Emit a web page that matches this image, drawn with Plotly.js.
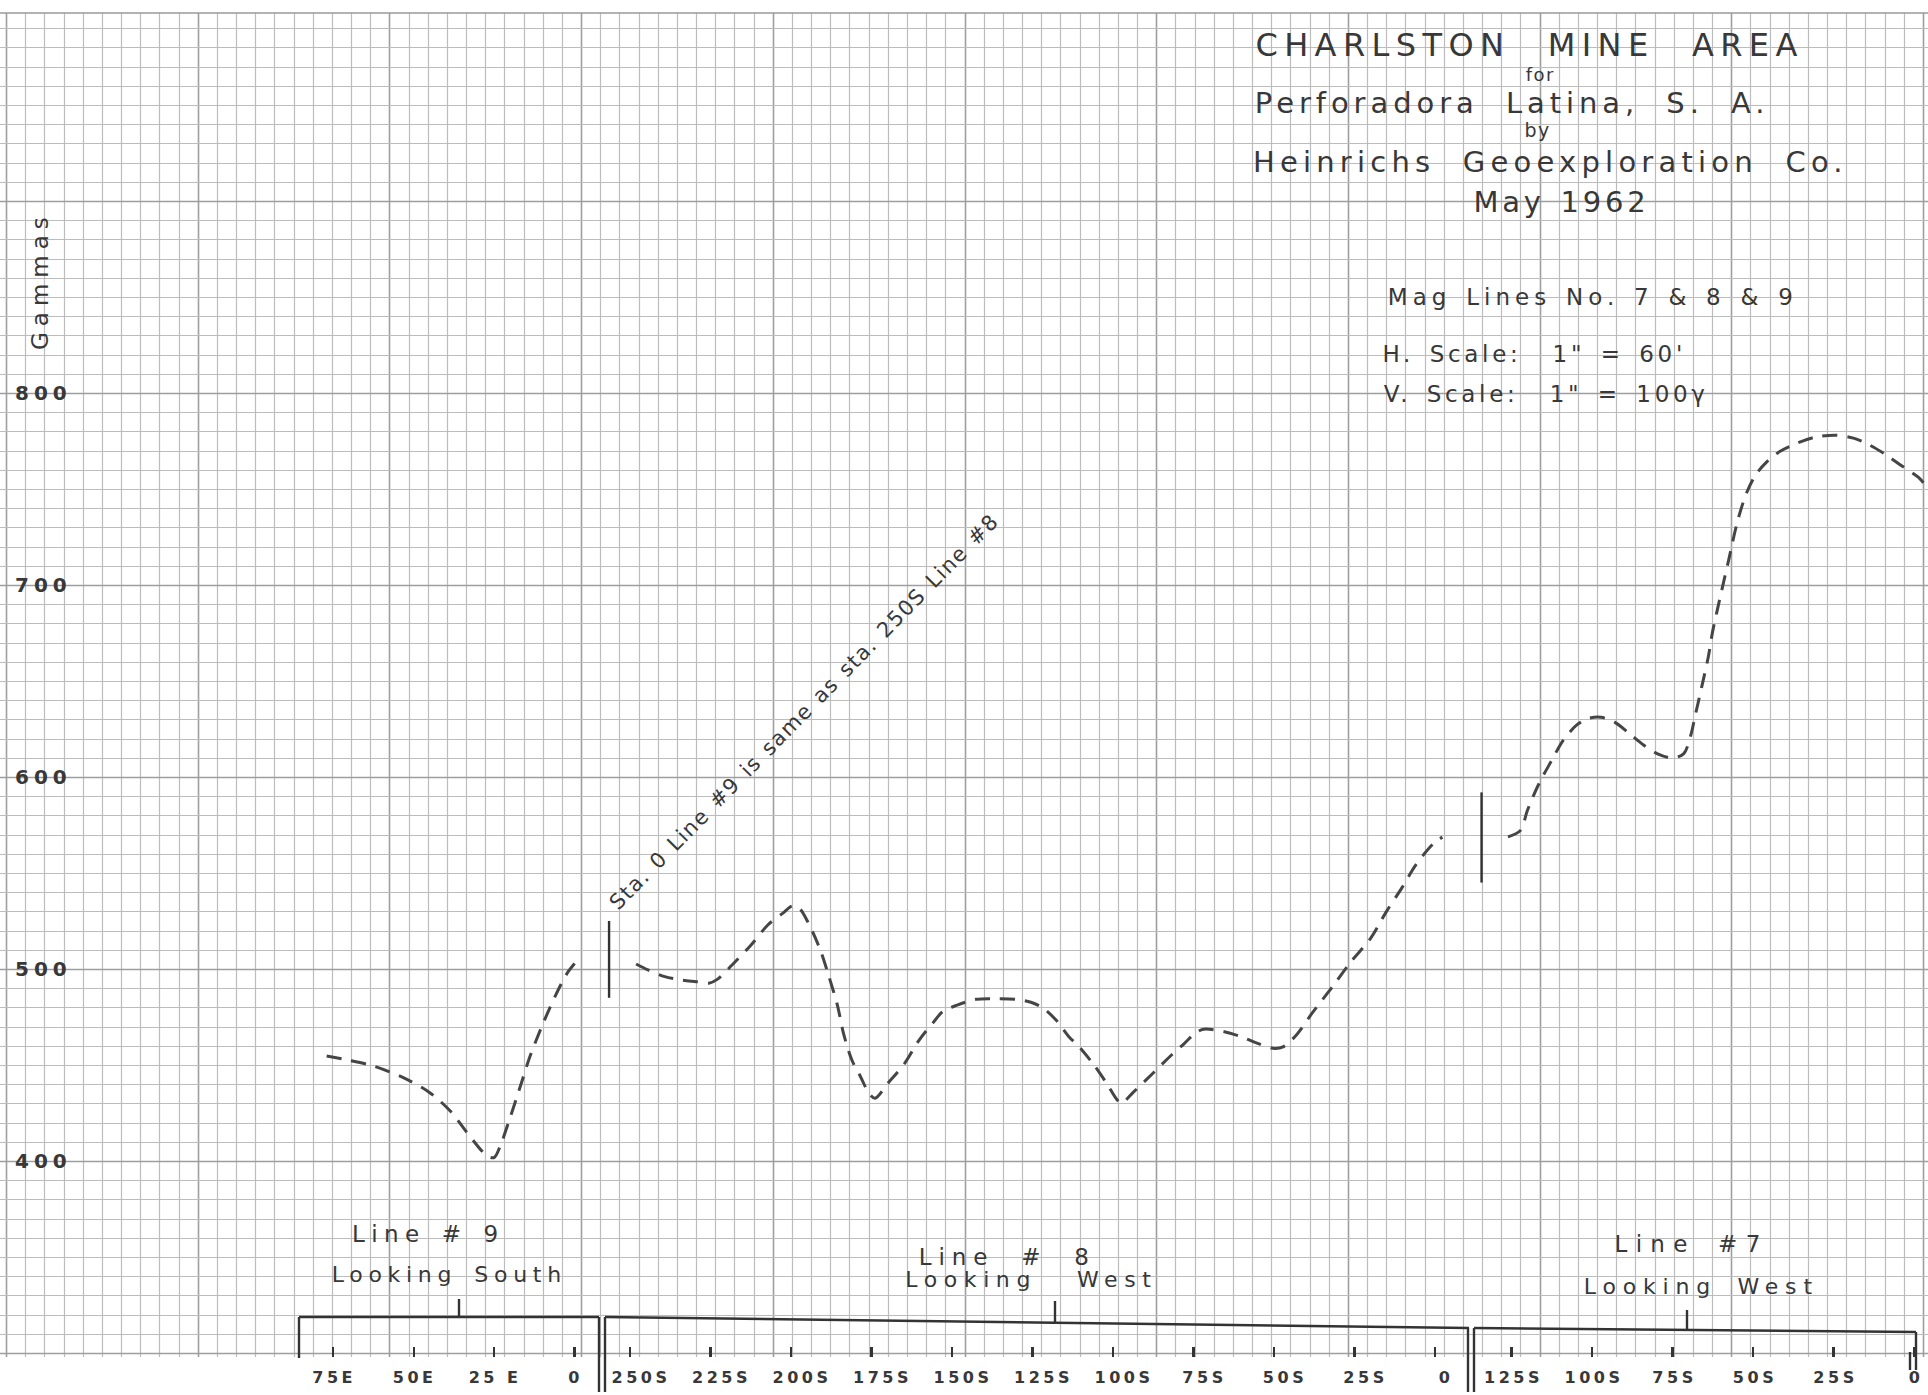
<!DOCTYPE html>
<html>
<head>
<meta charset="utf-8">
<script src="https://cdn.plot.ly/plotly-3.0.1.min.js"></script>
<style>
html,body{margin:0;padding:0;background:#ffffff;}
#chart{width:1928px;height:1395px;}
.x2tick text,.x3tick text,.x4tick text{letter-spacing:0.22em;}
.ytick text{letter-spacing:0.25em;}
</style>
</head>
<body>
<div id="chart"></div>
<script>
// ---------------- DATA ----------------
// Line #9, looking south: stations in feet East, values in gammas
const line9Stations = [77, 70.3, 62.5, 53.2, 45.4, 38.7, 34, 28.9, 26.8, 24.9, 23.2, 20.1, 16.4, 13.9, 10.2, 6.1, 2, -1.7];
const line9Gammas   = [454.7, 452.6, 449.5, 443.4, 436.1, 426.2, 416.1, 405.4, 402.2, 401.9, 407.4, 422.2, 441.3, 454.3, 470, 485.6, 498.6, 506.1];

// Line #8, looking west: stations in feet South
const line8Stations = [248.1, 244.4, 239.2, 234, 229.4, 225.5, 222.9, 218.3, 212.4, 207.2, 202.6, 199.6, 197.4, 194.8, 190.9, 188.2, 185.6, 183.7, 181.1, 178.4, 175.8, 173.9, 169.9, 164.7, 160.2, 155.6, 152.9, 148.4, 142.5, 136, 130.1, 125.5, 121.6, 117.7, 113.7, 110.5, 105.9, 102, 98.7, 97.4, 93.5, 87.6, 82.4, 77.8, 74.5, 71.9, 65.4, 60.2, 55.3, 49.8, 47, 42.9, 38, 31.7, 26.2, 19.9, 15.1, 10.2, 6.1, 0.5, -2.3];
const line8Gammas   = [502.6, 499.5, 496, 494.3, 493.4, 492.6, 494.6, 502.1, 512.5, 522.9, 529, 532.8, 531.6, 524.6, 509.9, 496, 481.2, 466.5, 452.6, 443.9, 435.3, 432.7, 440.5, 450.9, 463, 472.6, 477.8, 481.2, 484.2, 484.5, 484.2, 482.7, 479.5, 473.4, 464.7, 459.5, 450, 440.5, 431.8, 430.1, 436.1, 445.7, 454.3, 461.3, 466.5, 468.6, 467.3, 464.7, 461.4, 458.6, 459.6, 465.9, 477.4, 491.1, 503.6, 516.2, 529.9, 542.5, 553.9, 565.3, 568.7];

// Line #7, looking west: stations in feet South
const line7Stations = [126.1, 122.2, 120.1, 116.6, 112.5, 109, 104.8, 101.4, 97.2, 93, 88.2, 84, 79.8, 75, 71.5, 69.4, 68, 66, 63.9, 62.5, 60.4, 57.6, 54.8, 52.1, 49.3, 45.8, 41.7, 36.1, 30.6, 24.3, 18.8, 13.9, 8.4, 4.2, -1.4, -4.2];
const line7Gammas   = [568.8, 572.2, 582.4, 596.1, 608.7, 619, 627, 630.4, 631.1, 628.6, 622.4, 616.7, 612.2, 609.9, 612.2, 621.3, 631.6, 646.4, 662.4, 676.1, 692.1, 712.7, 733.2, 747.5, 757, 764, 769.5, 774, 777, 778, 776.5, 773, 767.5, 762.5, 756, 750.4];

// Junction marks (solid short verticals)
const junction98Stations = [256.5, 256.5];   // on Line #8 station scale
const junction98Gammas   = [485, 525];
const junction87Stations = [134.3, 134.3];   // on Line #7 station scale
const junction87Gammas   = [545, 592];

// Tick labels
const yTickVals = [400, 500, 600, 700, 800];
const yTickText = ['400', '500', '600', '700', '800'];
const line9TickVals = [75, 50, 25, 0];
const line9TickText = ['75E', '50E', '25 E', '0'];
const line8TickVals = [250, 225, 200, 175, 150, 125, 100, 75, 50, 25, 0];
const line8TickText = ['250S', '225S', '200S', '175S', '150S', '125S', '100S', '75S', '50S', '25S', '0'];
const line7TickVals = [125, 100, 75, 50, 25, 0];
const line7TickText = ['125S', '100S', '75S', '50S', '25S', '0'];

// ---------------- LAYOUT ----------------
const W = 1928, H = 1395, TOP = 13, BOTTOM = 1357;
const PX_PER_GAMMA = 1.92, Y_OF_800 = 393;
const PX_PER_FT = 3.22;
const GRID_CELL = 19.17, GRID_X0 = 6;
const FONT = 'DejaVu Sans, Liberation Sans, sans-serif';
const TXT = '#383838';
const INK = '#454545';
const GRID_MINOR = '#bcbcbc', GRID_MAJOR = '#9e9e9e';

const PX = x => x / W;
const PY = y => (BOTTOM - y) / (BOTTOM - TOP);
const yRange = [800 - (BOTTOM - Y_OF_800) / PX_PER_GAMMA, 800 + (Y_OF_800 - TOP) / PX_PER_GAMMA];

function stationAxis(zeroPx, tickvals, ticktext, shift) {
  return {
    overlaying: 'x', anchor: 'y', side: 'bottom',
    range: [zeroPx / PX_PER_FT, (zeroPx - W) / PX_PER_FT],
    tickmode: 'array', tickvals: tickvals, ticktext: ticktext,
    ticks: 'inside', ticklen: 10, tickwidth: 2.2, tickcolor: '#333',
    showgrid: false, zeroline: false, showline: false,
    tickfont: {family: FONT, size: 16, color: TXT, weight: 'bold'},
    ticklabelstandoff: 9, ticklabelshift: shift, ticklabeloverflow: 'allow',
    fixedrange: true
  };
}

const dashStyle = {color: INK, width: 3, dash: '15px,10px', shape: 'spline', smoothing: 0.9};

const traces = [
  {x: [], y: [], xaxis: 'x', yaxis: 'y', mode: 'lines', showlegend: false, hoverinfo: 'skip'},
  {x: line9Stations, y: line9Gammas, xaxis: 'x2', yaxis: 'y', mode: 'lines', line: dashStyle, name: 'Line #9', showlegend: false},
  {x: line8Stations, y: line8Gammas, xaxis: 'x3', yaxis: 'y', mode: 'lines', line: dashStyle, name: 'Line #8', showlegend: false},
  {x: line7Stations, y: line7Gammas, xaxis: 'x4', yaxis: 'y', mode: 'lines', line: dashStyle, name: 'Line #7', showlegend: false},
  {x: junction98Stations, y: junction98Gammas, xaxis: 'x3', yaxis: 'y', mode: 'lines', line: {color: '#333', width: 2.4}, showlegend: false},
  {x: junction87Stations, y: junction87Gammas, xaxis: 'x4', yaxis: 'y', mode: 'lines', line: {color: '#333', width: 2.4}, showlegend: false}
];

// annotations: [text, centerX px, centerY px, size, letterSpacing em, wordSpacing em, angle]
const annSpecs = [
  ['CHARLSTON MINE AREA', 1529, 45, 32, 0.2, 0.65, 0],
  ['for', 1540, 75, 18, 0.08, 0, 0],
  ['Perforadora Latina, S. A.', 1512, 103, 29, 0.17, 0.45, 0],
  ['by', 1537, 130, 19, 0.08, 0, 0],
  ['Heinrichs Geoexploration Co.', 1550, 162, 29, 0.18, 0.45, 0],
  ['May 1962', 1561, 202, 29, 0.13, 0.1, 0],
  ['Mag Lines No. 7 & 8 & 9', 1593, 297, 23, 0.22, 0.1, 0],
  ['H. Scale:  1" = 60\'', 1534, 354, 23, 0.16, 0.2, 0],
  ['V. Scale:  1" = 100γ', 1546, 394, 23, 0.16, 0.2, 0],
  ['Gammas', 40, 281, 23, 0.26, 0, -90],
  ['Sta. 0 Line #9 is same as sta. 250S Line #8', 804, 712, 21, 0.07, 0.1, -45.5],
  ['Line # 9', 428, 1234, 23, 0.28, 0.1, 0],
  ['Looking South', 449, 1274, 22, 0.26, 0.2, 0],
  ['Line # 8', 1007, 1257, 23, 0.3, 0.55, 0],
  ['Looking West', 1031, 1279, 22, 0.3, 1.2, 0],
  ['Line #7', 1691, 1244, 23, 0.36, 0.3, 0],
  ['Looking West', 1701, 1286, 22, 0.31, 0.3, 0]
];

const annotations = annSpecs.map(a => ({
  text: a[0], xref: 'paper', yref: 'paper', x: PX(a[1]), y: PY(a[2]),
  xanchor: 'center', yanchor: 'middle', showarrow: false, textangle: a[6],
  font: {family: FONT, size: a[3], color: TXT}
}));

let css = '';
annSpecs.forEach((a, i) => {
  css += 'g.annotation[data-index="' + i + '"] text{letter-spacing:' + a[4] + 'em;word-spacing:' + a[5] + 'em;}\n';
});
const st = document.createElement('style');
st.textContent = css;
document.head.appendChild(st);

// graph-paper grid (snapped to whole pixels so the lines stay crisp)
const shapes = [];
for (let k = 0; GRID_X0 + k * GRID_CELL <= W + 0.5; k++) {
  const xp = PX(Math.round(GRID_X0 + k * GRID_CELL) + 0.5);
  const major = (k % 10 === 0);
  shapes.push({type: 'line', xref: 'paper', yref: 'paper', layer: 'below',
    x0: xp, x1: xp, y0: 0, y1: 1,
    line: {color: major ? GRID_MAJOR : GRID_MINOR, width: major ? 1.6 : 1.2}});
}
for (let v = 300; v <= yRange[1]; v += 10) {
  const major = (v % 100 === 0);
  const yp = PY(Math.round(Y_OF_800 + (800 - v) * PX_PER_GAMMA) + 0.5);
  shapes.push({type: 'line', xref: 'paper', yref: 'paper', layer: 'below',
    x0: 0, x1: 1, y0: yp, y1: yp,
    line: {color: major ? GRID_MAJOR : GRID_MINOR, width: major ? 1.6 : 1.2}});
}
shapes.push({type: 'line', xref: 'paper', yref: 'paper', layer: 'below',
  x0: 0, x1: 1, y0: 1, y1: 1, line: {color: '#9a9a9a', width: 1.5}});

// bracket lines under the profiles (pixel positions on the sheet)
const segs = [
  [299, 1317, 299, 1358], [299, 1317, 599, 1317], [459, 1299, 459, 1317],
  [599, 1317, 599, 1392], [605, 1317, 605, 1392],
  [605, 1317, 1469, 1328], [1055, 1301, 1055, 1322],
  [1468, 1328, 1468, 1392], [1474, 1328, 1474, 1392],
  [1474, 1328, 1916, 1332], [1687, 1310, 1687, 1330], [1916, 1332, 1916, 1370],
  [1910, 1352, 1910, 1370]
];
segs.forEach(s => shapes.push({
  type: 'line', xref: 'paper', yref: 'paper', layer: 'above',
  x0: PX(s[0]), y0: PY(s[1]), x1: PX(s[2]), y1: PY(s[3]),
  line: {color: '#333', width: 2.4}
}));

const layout = {
  width: W, height: H,
  margin: {l: 0, r: 0, t: TOP, b: H - BOTTOM, pad: 0, autoexpand: false},
  paper_bgcolor: '#ffffff', plot_bgcolor: '#ffffff',
  showlegend: false,
  font: {family: FONT, color: TXT},
  xaxis: {range: [0, W], showticklabels: false, ticks: '', showgrid: false,
          zeroline: false, showline: false, fixedrange: true},
  xaxis2: stationAxis(574.6, line9TickVals, line9TickText, -1),
  xaxis3: stationAxis(1435, line8TickVals, line8TickText, -11),
  xaxis4: stationAxis(1914, line7TickVals, line7TickText, -2),
  yaxis: {
    range: yRange, tickmode: 'array', tickvals: yTickVals, ticktext: yTickText,
    ticklabelposition: 'inside', ticks: '', ticklabelstandoff: 12,
    tickfont: {family: FONT, size: 20, color: TXT, weight: 'bold'},
    showgrid: false, zeroline: false, showline: false, fixedrange: true
  },
  annotations: annotations,
  shapes: shapes
};

Plotly.newPlot('chart', traces, layout, {staticPlot: true, displayModeBar: false});
</script>
</body>
</html>
